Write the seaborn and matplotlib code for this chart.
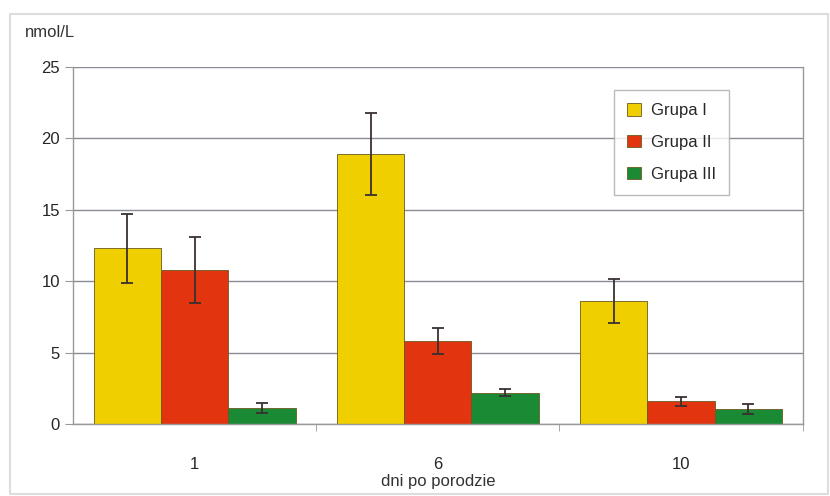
import pandas as pd
import matplotlib.pyplot as plt
import seaborn as sns
from matplotlib.patches import Rectangle

days = ["1", "6", "10"]
groups = ["Grupa I", "Grupa II", "Grupa III"]
grupa_1 = [12.3, 18.9, 8.6]
grupa_2 = [10.8, 5.8, 1.6]
grupa_3 = [1.1, 2.2, 1.05]
err_1 = [2.4, 2.85, 1.55]
err_2 = [2.3, 0.9, 0.33]
err_3 = [0.35, 0.25, 0.33]
colors = ["#EFCF00", "#E2340F", "#1B8A35"]

df = pd.DataFrame({
    "day": days * 3,
    "group": [g for g in groups for _ in days],
    "value": grupa_1 + grupa_2 + grupa_3,
})
errs = [err_1, err_2, err_3]

sns.set_style("white")
plt.rcParams["font.family"] = ["Liberation Sans", "DejaVu Sans"]

fig = plt.figure(figsize=(8.3, 4.96), dpi=100)
ax = fig.add_axes([0.088, 0.145, 0.879, 0.72])

sns.barplot(data=df, x="day", y="value", hue="group", order=days,
            hue_order=groups, palette=colors, saturation=1, width=0.83,
            errorbar=None, edgecolor="#6a5a20", linewidth=0.6, ax=ax)

for cont, e in zip(ax.containers, errs):
    xs = [b.get_x() + b.get_width() / 2 for b in cont]
    ys = [b.get_height() for b in cont]
    ax.errorbar(xs, ys, yerr=e, fmt="none", ecolor="#3a3030",
                elinewidth=1.3, capsize=4, capthick=1.3, zorder=5)

ax.set_ylim(0, 25)
ax.set_xlim(-0.5, 2.5)
ax.set_yticks(range(0, 26, 5))
ax.yaxis.grid(True, color="#8a8a95", linewidth=1)
ax.set_axisbelow(True)
ax.set_xticks([0.5, 1.5, 2.5], minor=True)
ax.tick_params(axis="x", which="major", length=0, labelsize=12, pad=24)
ax.tick_params(axis="x", which="minor", length=5, color="#999999", direction="out", bottom=True)
ax.tick_params(axis="y", length=6, color="#999999", labelsize=12, left=True)

for s in ["left", "bottom", "right"]:
    ax.spines[s].set_color("#999999")
    ax.spines[s].set_linewidth(1)
ax.spines["top"].set_visible(False)

ax.set_xlabel("dni po porodzie", fontsize=12, labelpad=1, color="#333333")
ax.set_ylabel("")
fig.text(0.03, 0.925, "nmol/L", fontsize=12, color="#333333")

leg = ax.legend(loc="upper left", bbox_to_anchor=(0.73, 0.96), fontsize=12,
                handlelength=0.8, handleheight=0.8, labelspacing=1.0,
                borderpad=0.8, handletextpad=0.6, frameon=True, fancybox=False)
leg.get_frame().set_edgecolor("#aaaaaa")
leg.get_frame().set_linewidth(1)
leg.set_title(None)

fig.patches.append(Rectangle((0.012, 0.005), 0.985, 0.967, transform=fig.transFigure,
                             fill=False, edgecolor="#dddddd", linewidth=1.5))

fig.savefig("out.png", dpi=100)
